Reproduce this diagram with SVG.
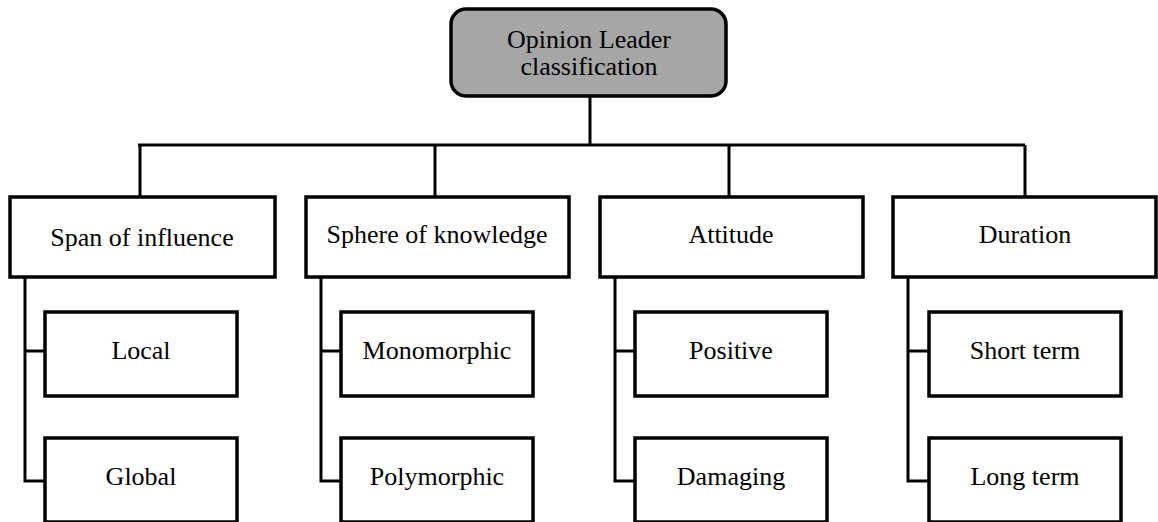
<svg xmlns="http://www.w3.org/2000/svg" width="1158" height="522" viewBox="0 0 1158 522">
  <style>
    .box { fill: #ffffff; stroke: #000000; stroke-width: 3.5; }
    .root { fill: #a6a6a6; stroke: #000000; stroke-width: 3.5; }
    .lbl { font-family: "Liberation Serif", "Times New Roman", serif; font-size: 26px; fill: #000000; text-anchor: middle; dominant-baseline: central; }
    .wire { fill: none; stroke: #000000; stroke-width: 3; }
  </style>
  <rect width="1158" height="522" fill="#ffffff"/>

  <!-- connectors: root stem, bus bar, drops, and the category trunks -->
  <g id="connectors" class="wire">
    <path d="M590 97 V145"/>
    <path d="M138 145 H1025"/>
    <path d="M140 145 V197 M435 145 V197 M729 145 V197 M1025 145 V197"/>
    <path d="M25 277 V481 H45 M25 351 H45"/>
    <path d="M321 277 V481 H341 M321 351 H341"/>
    <path d="M615 277 V481 H635 M615 351 H635"/>
    <path d="M908 277 V481 H929 M908 351 H929"/>
  </g>

  <g id="root">
    <rect class="root" x="451" y="9" width="275" height="87" rx="15"/>
    <text class="lbl" x="589" y="39">Opinion Leader</text>
    <text class="lbl" x="589" y="66">classification</text>
  </g>

  <g id="span">
    <rect class="box" x="10" y="197" width="265" height="80"/>
    <text class="lbl" x="142" y="237">Span of influence</text>
  </g>
  <g id="sphere">
    <rect class="box" x="306" y="197" width="263" height="80"/>
    <text class="lbl" x="437" y="234">Sphere of knowledge</text>
  </g>
  <g id="attitude">
    <rect class="box" x="600" y="197" width="263" height="80"/>
    <text class="lbl" x="731" y="234">Attitude</text>
  </g>
  <g id="duration">
    <rect class="box" x="893" y="197" width="263" height="80"/>
    <text class="lbl" x="1025" y="234">Duration</text>
  </g>

  <g id="local">
    <rect class="box" x="45" y="312" width="192" height="84"/>
    <text class="lbl" x="141" y="350">Local</text>
  </g>
  <g id="global">
    <rect class="box" x="45" y="438" width="192" height="84"/>
    <text class="lbl" x="141" y="476">Global</text>
  </g>
  <g id="monomorphic">
    <rect class="box" x="341" y="312" width="192" height="84"/>
    <text class="lbl" x="437" y="350">Monomorphic</text>
  </g>
  <g id="polymorphic">
    <rect class="box" x="341" y="438" width="192" height="84"/>
    <text class="lbl" x="437" y="476">Polymorphic</text>
  </g>
  <g id="positive">
    <rect class="box" x="635" y="312" width="192" height="84"/>
    <text class="lbl" x="731" y="350">Positive</text>
  </g>
  <g id="damaging">
    <rect class="box" x="635" y="438" width="192" height="84"/>
    <text class="lbl" x="731" y="476">Damaging</text>
  </g>
  <g id="short-term">
    <rect class="box" x="929" y="312" width="192" height="84"/>
    <text class="lbl" x="1025" y="350">Short term</text>
  </g>
  <g id="long-term">
    <rect class="box" x="929" y="438" width="192" height="84"/>
    <text class="lbl" x="1025" y="476">Long term</text>
  </g>
</svg>
